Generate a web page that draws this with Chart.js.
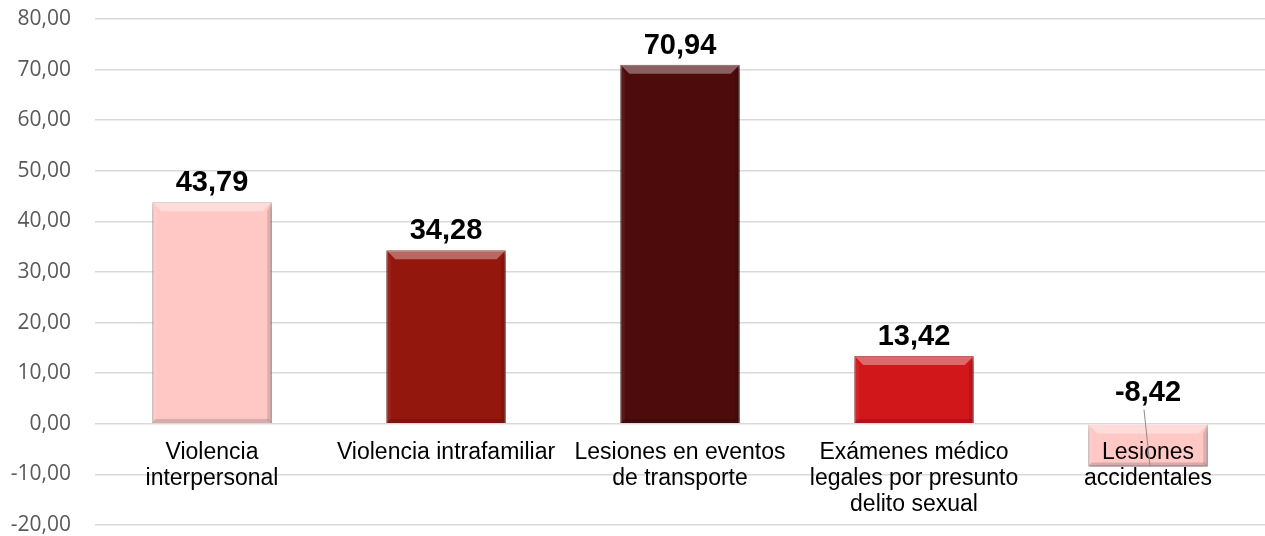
<!DOCTYPE html>
<html>
<head>
<meta charset="utf-8">
<script src="https://cdn.jsdelivr.net/npm/chart.js@4/dist/chart.umd.min.js"></script>
<style>
  body { margin: 0; background: #fff; }
  #wrap { width: 1265px; height: 536px; }
</style>
</head>
<body>
<div id="wrap"><canvas id="myChart"></canvas></div>
<script>
// Chart data
const categories = [
  ['Violencia', 'interpersonal'],
  ['Violencia intrafamiliar'],
  ['Lesiones en eventos', 'de transporte'],
  ['Exámenes médico', 'legales por presunto', 'delito sexual'],
  ['Lesiones', 'accidentales']
];
const values = [43.79, 34.28, 70.94, 13.42, -8.42];
const barColors = ['#FFC8C5', '#94170E', '#4E0B0C', '#D2171B', '#FFC8C5'];
const barBorders = ['#B89490', '#6A0F09', '#350607', '#9A1013', '#B89490'];
const yMin = -20, yMax = 80, yStep = 10;

const fmt = v => v.toFixed(2).replace('.', ',');

// Shadow under the bars
const barShadow = {
  id: 'barShadow',
  beforeDatasetsDraw(chart) {
    const ctx = chart.ctx;
    ctx.save();
    ctx.shadowColor = 'rgba(0,0,0,0.35)';
    ctx.shadowBlur = 5;
    ctx.shadowOffsetX = 1;
    ctx.shadowOffsetY = 4;
  },
  afterDatasetsDraw(chart) {
    chart.ctx.restore();
  }
};

// Bevel effect on each bar
const bevel = {
  id: 'bevel',
  afterDatasetsDraw(chart) {
    const ctx = chart.ctx;
    const meta = chart.getDatasetMeta(0);
    meta.data.forEach(bar => {
      const l = bar.x - bar.width / 2, r = bar.x + bar.width / 2;
      const t = Math.min(bar.y, bar.base), b = Math.max(bar.y, bar.base);
      const d = Math.min(9, (b - t) / 3);
      const poly = (pts, color) => {
        ctx.beginPath();
        ctx.moveTo(pts[0][0], pts[0][1]);
        pts.slice(1).forEach(p => ctx.lineTo(p[0], p[1]));
        ctx.closePath();
        ctx.fillStyle = color;
        ctx.fill();
      };
      ctx.save();
      poly([[l, t], [r, t], [r - d, t + d], [l + d, t + d]], 'rgba(255,255,255,0.35)');
      poly([[l, t], [l + d / 2, t + d], [l + d / 2, b - 3], [l, b]], 'rgba(255,255,255,0.06)');
      poly([[r, t], [r - d / 2, t + d], [r - d / 2, b - 3], [r, b]], 'rgba(0,0,0,0.12)');
      poly([[l, b], [r, b], [r - 3, b - 4], [l + 3, b - 4]], 'rgba(0,0,0,0.15)');
      ctx.restore();
    });
  }
};

// Value labels above the bars
const valueLabels = {
  id: 'valueLabels',
  afterDraw(chart) {
    const ctx = chart.ctx;
    const meta = chart.getDatasetMeta(0);
    ctx.save();
    ctx.font = 'bold 29px "Liberation Sans", Arial, sans-serif';
    ctx.fillStyle = '#000';
    ctx.textAlign = 'center';
    ctx.textBaseline = 'alphabetic';
    meta.data.forEach((bar, i) => {
      const v = values[i];
      if (v >= 0) {
        ctx.fillText(fmt(v), bar.x, bar.y - 11);
      } else {
        ctx.fillText(fmt(v), bar.x, bar.base - 24);
        ctx.strokeStyle = '#8c8c8c';
        ctx.lineWidth = 1;
        ctx.beginPath();
        ctx.moveTo(bar.x - 4, bar.base - 15);
        ctx.lineTo(bar.x + 2, bar.y);
        ctx.stroke();
      }
    });
    ctx.restore();
  }
};

const config = {
  type: 'bar',
  data: {
    labels: categories,
    datasets: [{
      data: values,
      backgroundColor: barColors,
      borderColor: barBorders,
      borderWidth: 1,
      barPercentage: 0.51,
      categoryPercentage: 1
    }]
  },
  options: {
    responsive: true,
    maintainAspectRatio: false,
    animation: false,
    layout: { padding: { left: 10, top: 0, right: 0, bottom: 0 } },
    plugins: { legend: { display: false }, tooltip: { enabled: false } },
    scales: {
      x: {
        position: { y: 0 },
        grid: { display: false, drawTicks: false },
        border: { display: false },
        afterFit: s => { s.height = 0; },
        ticks: {
          z: 1,
          padding: 16,
          maxRotation: 0,
          minRotation: 0,
          autoSkip: false,
          color: '#000',
          font: { family: '"Liberation Sans", Arial, sans-serif', size: 23, lineHeight: 1.13 }
        }
      },
      y: {
        min: yMin,
        max: yMax,
        grid: { color: '#D9D9D9', lineWidth: 1.5, drawTicks: false },
        border: { display: false },
        afterFit: s => {
          s.width = 85;
          s.paddingTop = 19;
          s.paddingBottom = 11;
        },
        ticks: {
          stepSize: yStep,
          padding: 24,
          color: '#595959',
          font: { family: '"Open Sans", sans-serif', size: 21 },
          callback: v => fmt(v)
        }
      }
    }
  },
  plugins: [barShadow, bevel, valueLabels]
};

const chart = new Chart(document.getElementById('myChart'), config);
</script>
</body>
</html>
